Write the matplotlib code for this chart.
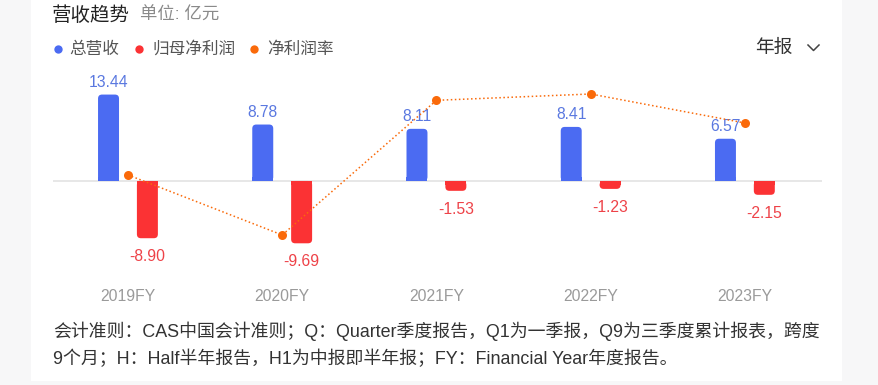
import matplotlib
matplotlib.use('Agg')
import matplotlib.pyplot as plt
from matplotlib.patches import FancyBboxPatch, Rectangle
from matplotlib.lines import Line2D
import numpy as np

plt.rcParams['font.family'] = ['Liberation Sans', 'Noto Sans CJK SC', 'DejaVu Sans']

# データ
years = ['2019FY', '2020FY', '2021FY', '2022FY', '2023FY']
revenue = [13.44, 8.78, 8.11, 8.41, 6.57]          # 总营收（亿元）
net_profit = [-8.90, -9.69, -1.53, -1.23, -2.15]    # 归母净利润（亿元）
margin = [-69.6, -110.4, -18.9, -14.6, -34.3]       # 净利润率（%）

c_blue = '#4b6bf2'
c_red = '#fb3234'
c_orange = '#fa6a0a'
c_blue_txt = '#5a78e0'
c_red_txt = '#ee4248'

W, H = 879, 385
fig = plt.figure(figsize=(W / 100, H / 100), dpi=100, facecolor='#f7f7f8')

def px(x0, y0, x1, y1):
    # ピクセル座標 -> figure座標
    return [x0 / W, 1 - y1 / H, (x1 - x0) / W, (y1 - y0) / H]

# カード背景
fig.patches.append(Rectangle((31 / W, 1 - 381 / H), (842 - 31) / W, 381 / H,
                             transform=fig.transFigure, facecolor='white',
                             edgecolor='none', zorder=-5))

ax = fig.add_axes(px(53, 70, 822, 275))
ax.set_facecolor('none')
ax.set_xlim(-0.486, 4.5)
ax.set_ylim(-14.62, 17.26)
for s in ax.spines.values():
    s.set_visible(False)
ax.set_yticks([])

x = np.arange(len(years))
bw = 0.136
off = 0.126
b1 = ax.bar(x - off, revenue, bw, color=c_blue, zorder=2)
b2 = ax.bar(x + off, net_profit, bw, color=c_red, zorder=2)

# 角丸のバーに置き換え
r = 0.026
asp = (1 / 6.43) / (1 / 154.25)
for bars in (b1, b2):
    for p in bars:
        bx, by, w, h = p.get_x(), p.get_y(), p.get_width(), p.get_height()
        col = p.get_facecolor()
        p.set_visible(False)
        ax.add_patch(FancyBboxPatch((bx, min(by, by + h)), w, abs(h),
                                    boxstyle='round,pad=0,rounding_size=%f' % r,
                                    mutation_aspect=asp, facecolor=col,
                                    edgecolor='none', zorder=2))
        # ゼロ側は角を丸めない
        hh = min(abs(h), r * asp)
        y0 = 0 if h >= 0 else -hh
        ax.add_patch(Rectangle((bx, y0), w, hh, facecolor=col,
                               edgecolor='none', zorder=2))

ax.axhline(0, color='#e3e3e3', lw=1.2, zorder=1)

for xi, v in zip(x, revenue):
    ax.annotate('%.2f' % v, (xi - off, v), xytext=(0, 3.5), textcoords='offset points',
                ha='center', va='bottom', fontsize=11.3, color=c_blue_txt, zorder=5)
for xi, v in zip(x, net_profit):
    ax.annotate('%.2f' % v, (xi + off, v), xytext=(0, -8), textcoords='offset points',
                ha='center', va='top', fontsize=11.3, color=c_red_txt, zorder=5)

ax.set_xticks(x)
ax.set_xticklabels(years, fontsize=11.3, color='#9a9a9a')
ax.tick_params(axis='x', length=0, pad=10)

# 净利润率（副軸）
ax2 = ax.twinx()
ax2.set_ylim(-137.6, 1.7)
ax2.set_yticks([])
for s in ax2.spines.values():
    s.set_visible(False)
ax2.plot(x, margin, linestyle=':', lw=1.1, color=c_orange, marker='o',
         markersize=6.5, markeredgewidth=0, zorder=3)

# タイトル・凡例
fig.text(52 / W, 1 - 16 / H, '营收趋势', fontsize=14, color='#222222', va='center')
fig.text(140 / W, 1 - 15 / H, '单位: 亿元', fontsize=12.5, color='#8a8a8a', va='center')

legend = [('总营收', c_blue, 58, 69), ('归母净利润', c_red, 139, 152), ('净利润率', c_orange, 254, 267)]
for name, col, dx, tx in legend:
    fig.lines.append(Line2D([dx / W], [1 - 49 / H], transform=fig.transFigure, marker='o',
                            markersize=6, markeredgewidth=0, color=col))
    fig.text(tx / W, 1 - 49 / H, name, fontsize=12, color='#555555', va='center')

fig.text(755 / W, 1 - 48 / H, '年报', fontsize=13.5, color='#333333', va='center')
fig.lines.append(Line2D([808 / W, 813.5 / W, 819 / W], [1 - 45 / H, 1 - 50.5 / H, 1 - 45 / H],
                        transform=fig.transFigure, color='#444444', lw=1.1))

# 注記
note1 = '会计准则：CAS中国会计准则；Q：Quarter季度报告，Q1为一季报，Q9为三季度累计报表，跨度'
note2 = '9个月；H：Half半年报告，H1为中报即半年报；FY：Financial Year年度报告。'
fig.text(53 / W, 1 - 331 / H, note1, fontsize=12.9, color='#333333', va='center')
fig.text(53 / W, 1 - 359 / H, note2, fontsize=12.9, color='#333333', va='center')

fig.savefig('out.png', dpi=100, facecolor=fig.get_facecolor())
